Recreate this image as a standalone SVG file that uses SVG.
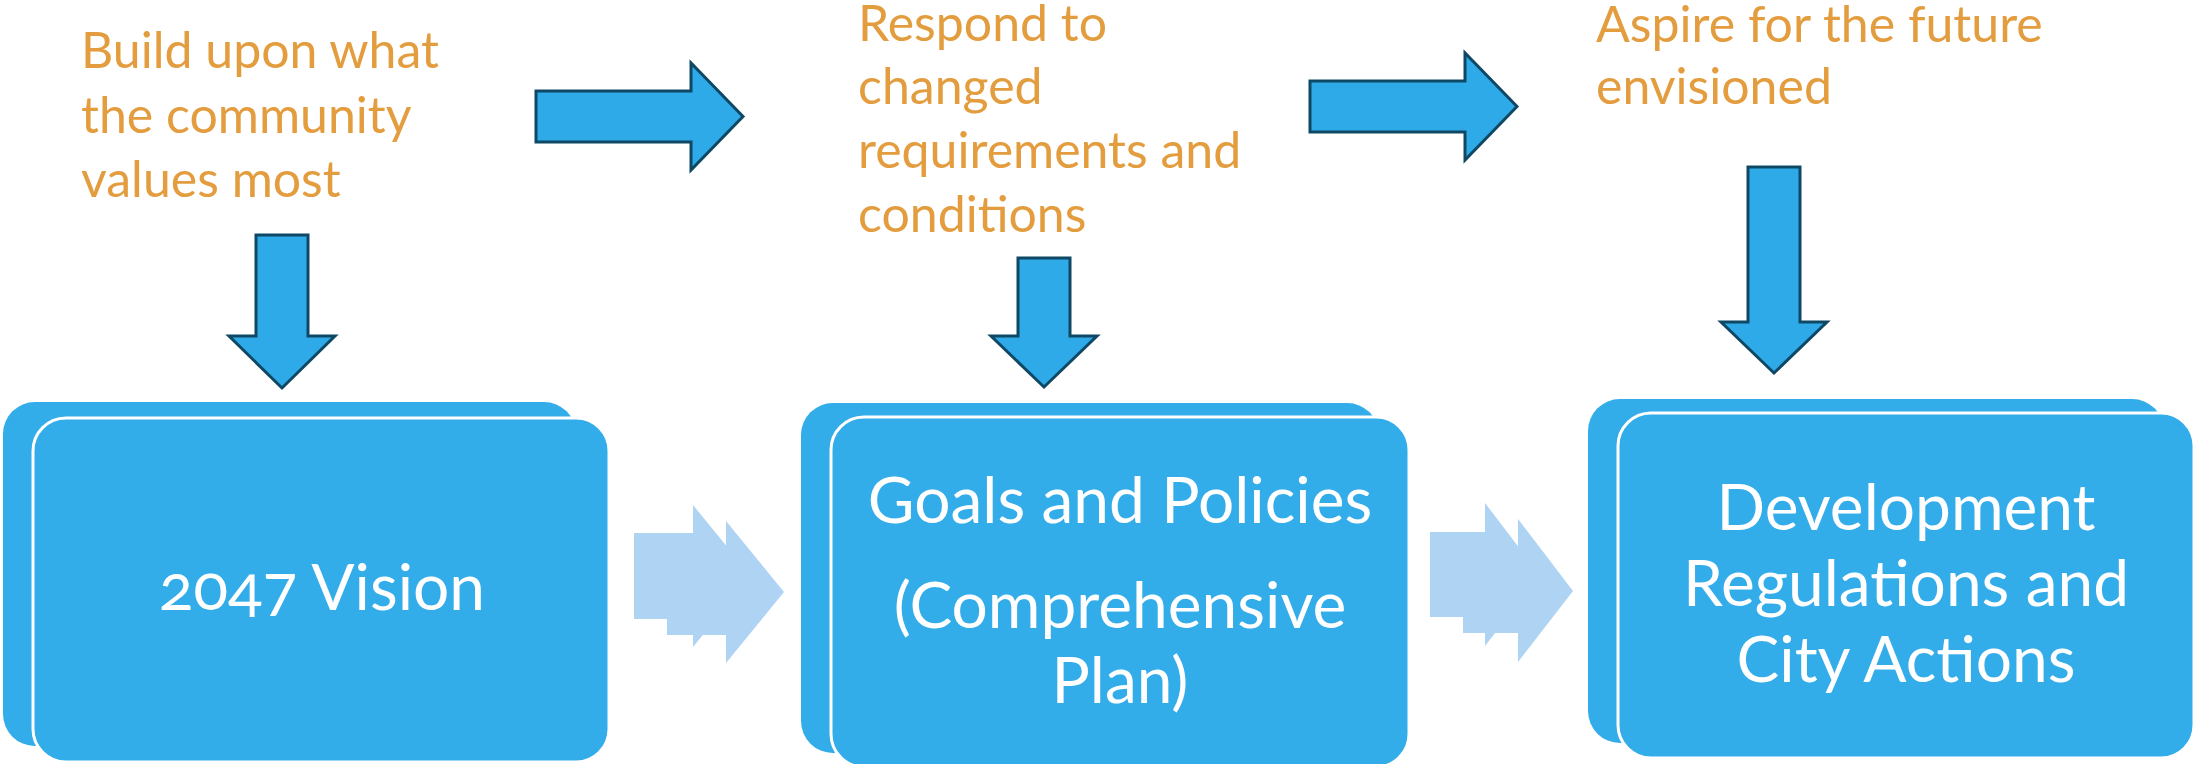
<svg xmlns="http://www.w3.org/2000/svg" width="2195" height="764" viewBox="0 0 2195 764">
  <style>
    .back { fill: #33ACEA; }
    .front { fill: #33ACEA; stroke: #FFFFFF; stroke-width: 3; }
    .label { font-family: Lato, "Open Sans", sans-serif; fill: #E39D3E; font-size: 50px; }
    .boxtxt { font-family: Lato, "Open Sans", sans-serif; fill: #FFFFFF; font-size: 64px; text-anchor: middle; font-variant-numeric: oldstyle-nums; }
    .darr { fill: #2FAAE8; stroke: #0F4865; stroke-width: 3; stroke-linejoin: miter; }
    .larr { fill: #AFD3F3; }
  </style>
  <rect width="2195" height="764" fill="#FFFFFF"/>

  <g id="note-build">
    <text class="label" x="81" y="68">Build upon what</text>
    <text class="label" x="81" y="133">the community</text>
    <text class="label" x="81" y="197">values most</text>
  </g>
  <g id="note-respond">
    <text class="label" x="858" y="41">Respond to</text>
    <text class="label" x="858" y="104">changed</text>
    <text class="label" x="858" y="168">requirements and</text>
    <text class="label" x="858" y="232">conditions</text>
  </g>
  <g id="note-aspire">
    <text class="label" x="1596" y="42">Aspire for the future</text>
    <text class="label" x="1596" y="104">envisioned</text>
  </g>

  <g id="node-vision">
    <rect class="back" x="3" y="402" width="573" height="344" rx="32" ry="32"/>
    <rect class="front" x="33" y="418" width="576" height="344" rx="33" ry="33"/>
    <text class="boxtxt" x="322" y="610">2047 Vision</text>
  </g>
  <g id="node-goals">
    <rect class="back" x="801" y="403" width="578" height="350" rx="32" ry="32"/>
    <rect class="front" x="831" y="417" width="578" height="350" rx="33" ry="33"/>
    <text class="boxtxt" x="1120" y="523">Goals and Policies</text>
    <text class="boxtxt" x="1120" y="628">(Comprehensive</text>
    <text class="boxtxt" x="1120" y="703">Plan)</text>
  </g>
  <g id="node-development">
    <rect class="back" x="1588" y="399" width="576" height="344" rx="32" ry="32"/>
    <rect class="front" x="1618" y="413" width="576" height="345" rx="33" ry="33"/>
    <text class="boxtxt" x="1906" y="530">Development</text>
    <text class="boxtxt" x="1906" y="606">Regulations and</text>
    <text class="boxtxt" x="1906" y="682">City Actions</text>
  </g>

  <g id="connectors">
    <polygon class="darr" points="536,91 691,91 691,63 743,116.5 691,170 691,142 536,142"/>
    <polygon class="darr" points="1310,81 1465,81 1465,53 1517,106.5 1465,160 1465,132 1310,132"/>
    <polygon class="darr" points="256,235 308,235 308,336 335,336 282,388 229,336 256,336"/>
    <polygon class="darr" points="1018,258 1070,258 1070,336 1097,336 1044,387 991,336 1018,336"/>
    <polygon class="darr" points="1748,167 1800,167 1800,322 1827,322 1774,373 1721,322 1748,322"/>
    <polygon class="larr" points="634,533 693,533 693,505 751,576 693,647 693,619 634,619"/>
    <polygon class="larr" points="667,549 726,549 726,521 784,592 726,663 726,635 667,635"/>
    <polygon class="larr" points="1430,532 1485,532 1485,503 1540,575 1485,646 1485,617 1430,617"/>
    <polygon class="larr" points="1463,548 1518,548 1518,519 1573,591 1518,662 1518,633 1463,633"/>
  </g>
</svg>
